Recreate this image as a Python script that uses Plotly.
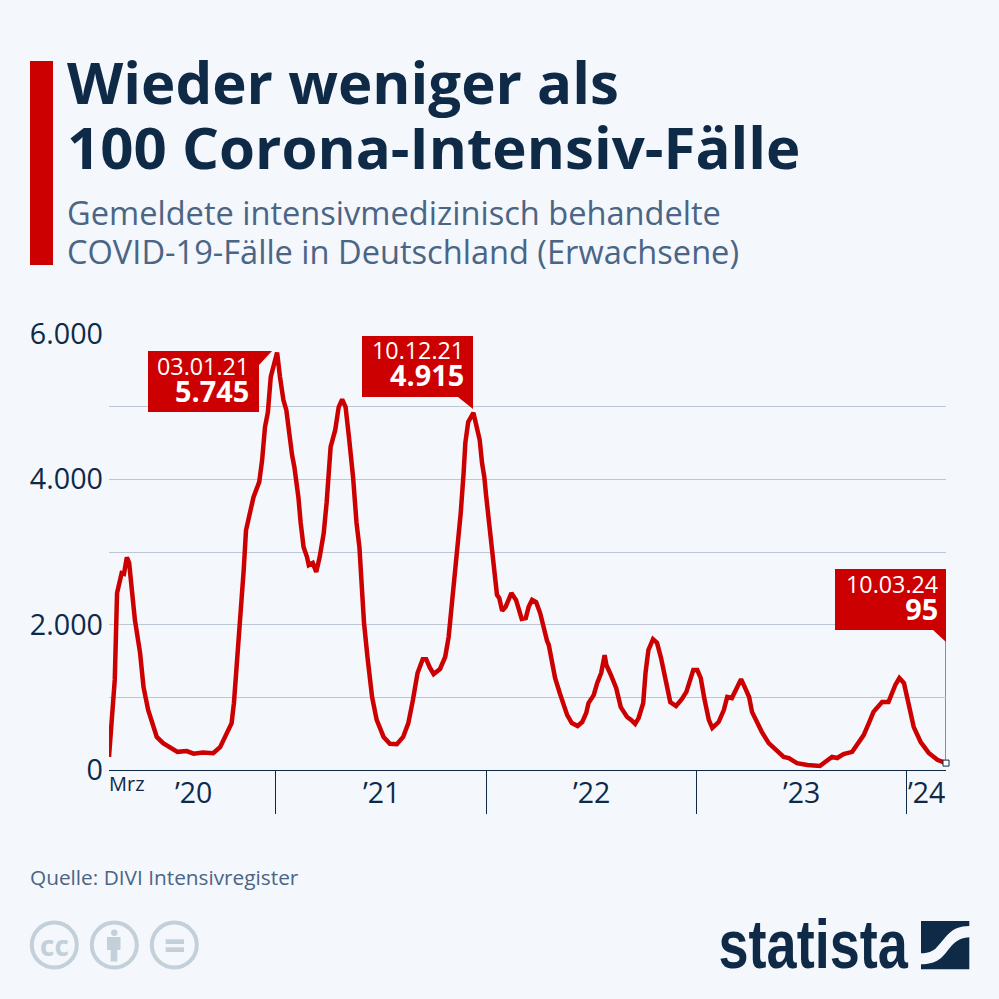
import pandas as pd
import plotly.graph_objects as go

START = "2020-03-17"
day_offsets = [0,6,10,14,18,22,26,31,35,39,45,54,60,68,74,83,94,106,119,135,147,163,181,193,205,213,217,222,228,
234,238,245,251,261,266,271,276,281,286,292,297,303,308,313,318,322,329,333,338,344,347,354,360,366,373,378,382,385,393,399,405,411,417,424,430,435,
439,443,449,457,465,477,488,500,511,520,528,536,545,551,557,564,575,584,590,596,598,605,611,616,619,624,633,636,644,648,652,655,662,668,674,678,683,689,699,707,711,717,724,729,735,742,749,755,761,764,770,775,783,790,796,804,814,822,829,833,842,848,855,861,864,872,881,889,900,907,914,920,928,932,937,945,952,959,966,975,985,995,1003,1010,1015,1022,1028,1034,1042,1048,1059,1068,1074,1082,1091,1098,1105,1112,1117,1126,1134,1146,1160,1172,1181,1195,1213,1224,1235,1244,1256,1265,1276,1291,1300,1311,1320,1328,1343,1354,1366,1373,1381,1389,1398,1410,1424,1439,1454]
cases = [180,785,1240,2435,2575,2710,2700,2925,2850,2475,2065,1610,1140,825,690,455,370,315,250,260,225,240,230,315,510,645,920,1415,2160,
2750,3300,3575,3755,3965,4265,4720,4925,5410,5575,5745,5410,5090,4955,4580,4335,4170,3755,3400,3070,2930,2820,2850,2725,2930,3260,3675,4085,4445,4680,4995,5100,4995,4570,4030,3400,3070,
2545,2025,1555,1005,690,455,360,355,455,645,965,1335,1525,1525,1415,1320,1390,1555,1830,2300,2380,2930,3535,4085,4500,4790,4915,4815,4540,4225,4030,3785,3260,2750,2410,2365,2190,2245,2435,2340,2230,2080,2090,2245,2340,2310,2160,1955,1775,1720,1485,1265,1060,895,755,645,605,660,785,920,1030,1195,1335,1580,1445,1305,1130,865,730,690,635,715,920,1335,1650,1800,1750,1540,1240,935,880,975,1075,1240,1375,1375,1265,990,690,580,660,825,1005,990,1140,1250,1130,1005,800,645,525,370,275,180,165,95,70,70,55,110,180,165,220,250,345,480,645,800,935,935,1170,1265,1195,920,590,385,235,140,95]

y_ticks = [0,1000,2000,3000,4000,5000,6000]
y_labels = ["0","","2.000","","4.000","","6.000"]
year_ticks = ["2021-01-01","2022-01-01","2023-01-01","2024-01-01"]
year_labels = ["’20","’21","’22","’23","’24"]
year_label_dates = ["2020-08-11","2021-07-03","2022-07-03","2023-07-03","2024-02-05"]

callout_dates = ["03.01.21","10.12.21","10.03.24"]
callout_values = ["5.745","4.915","95"]

BG="#f4f7fb"; NAVY="#0f2a47"; SLATE="#4a6585"; RED="#cc0000"; GRID="#bcc7d3"; ICON="#c3d0d9"
FONT="Open Sans"

dates = pd.Timestamp(START) + pd.to_timedelta(day_offsets, unit="D")

def X(x): return x/999
def Y(y): return 1-y/999

fig = go.Figure()
fig.add_trace(go.Scatter(x=dates, y=cases, mode="lines", line=dict(color=RED,width=4.5,shape="linear"),
                         hoverinfo="skip", showlegend=False, cliponaxis=False))
fig.add_trace(go.Scatter(x=[dates[-1]], y=[cases[-1]], mode="markers",
                         marker=dict(symbol="square",size=6,color="white",line=dict(color=NAVY,width=1)),
                         hoverinfo="skip", showlegend=False, cliponaxis=False))

shapes=[]
def rect(x0,y0,x1,y1,color):
    shapes.append(dict(type="rect",xref="paper",yref="paper",x0=X(x0),x1=X(x1),y0=Y(y0),y1=Y(y1),
                       fillcolor=color,line=dict(width=0),layer="above"))
def poly(pts,color,close=True):
    d="M"+" L".join(f"{X(a):.5f},{Y(b):.5f}" for a,b in pts)+(" Z" if close else "")
    shapes.append(dict(type="path",xref="paper",yref="paper",path=d,fillcolor=color,line=dict(width=0),layer="above"))
def circle(cx,cy,r,fill,lw=0,lc=None):
    shapes.append(dict(type="circle",xref="paper",yref="paper",x0=X(cx-r),x1=X(cx+r),y0=Y(cy+r),y1=Y(cy-r),
                       fillcolor=fill,line=dict(width=lw,color=lc),layer="above"))

rect(30,61,53,265,RED)
# callouts
rect(148,351,259,412,RED); poly([(259,351),(272,351),(259,365)],RED)
rect(362,336,473,397,RED); poly([(458,397),(473,409),(473,397)],RED)
rect(835,569,946,630,RED); poly([(933,630),(946,630),(946,642)],RED)
# leader of last value
shapes.append(dict(type="line",xref="x",yref="paper",x0=dates[-1],x1=dates[-1],y0=Y(763),y1=Y(640),
                   line=dict(color=NAVY,width=1),layer="below"))
# licence icons
for cx in (54.3,114.3,174.3):
    circle(cx,945,22.5,"rgba(0,0,0,0)",4,ICON)
circle(114.3,932.7,3.2,ICON)
rect(107,937,120.5,950,ICON); rect(110.7,950,117.3,961.5,ICON)
rect(165.7,939.3,184,944,ICON); rect(165.7,947.3,184,952,ICON)
# logo mark
def logo(d):
    return dict(type="path",xref="paper",yref="paper",path=d,fillcolor=NAVY,line=dict(width=0),layer="above")
def P(x,y): return f"{X(x):.5f},{Y(y):.5f}"
shapes.append(logo(f"M{P(921,921)} L{P(969.3,921)} L{P(969.3,926)} C{P(950,926)} {P(946,938)} {P(937,947)} C{P(933,952)} {P(927,953)} {P(921,953.3)} Z"))
shapes.append(logo(f"M{P(969.3,937.3)} L{P(969.3,969.3)} L{P(921,969.3)} L{P(921,964.3)} C{P(937,964)} {P(942,958)} {P(948,950)} C{P(954,943)} {P(958,938)} {P(969.3,937.3)} Z"))

anns=[]
def text(x,y,s,size,color,bold=False,anchor="left",family=FONT,xref="paper",align=None):
    anns.append(dict(xref=xref,yref="paper",x=x if xref!="paper" else X(x),y=Y(y),text=f"<b>{s}</b>" if bold else s,showarrow=False,
                     xanchor=anchor,yanchor="middle",font=dict(family=family,size=size,color=color),borderpad=0,borderwidth=0,
                     align=align or anchor))

text(67,81,"Wieder weniger als",58.2,NAVY,True)
text(67,146,"100 Corona-Intensiv-Fälle",58.2,NAVY,True)
text(67,213,"Gemeldete intensivmedizinisch behandelte",32.6,SLATE)
text(67,252,"COVID-19-Fälle in Deutschland (Erwachsene)",32.6,SLATE)
text(30,877,"Quelle: DIVI Intensivregister",20.8,SLATE)
text(108.5,783,"Mrz",20,NAVY)
for d,l in zip(year_label_dates,year_labels):
    text(d,792,l,28.5,NAVY,anchor="center",xref="x")
for (rx,yc),d,v in zip([(249,380),(464,364),(938,598)],callout_dates,callout_values):
    text(rx,yc,f'<span style="font-size:23.3px">{d}</span><br><b style="font-size:28.8px">{v}</b>',21,"white",anchor="right")
text(54.3,945,"cc",28,ICON,True,anchor="center")
text(813.5,944,"statista",68,NAVY,True,anchor="center",family="Liberation Sans")

fig.update_layout(width=999,height=999,autosize=False,margin=dict(l=0,r=0,t=0,b=0,pad=0),
    paper_bgcolor=BG,plot_bgcolor=BG,showlegend=False,shapes=shapes,annotations=anns,
    font=dict(family=FONT,color=NAVY),
    xaxis=dict(domain=[X(109),X(946)],type="date",range=[dates[0],dates[-1]],automargin=False,
               tickvals=year_ticks,ticktext=[""]*len(year_ticks),ticks="outside",ticklen=43,tickwidth=1,tickcolor=NAVY,
               showgrid=False,zeroline=False,showline=True,linecolor=NAVY,linewidth=1,anchor="y"),
    yaxis=dict(domain=[Y(770),Y(334)],range=[0,6000],automargin=False,tickvals=y_ticks,ticktext=y_labels,ticks="",
               ticklabelstandoff=5,tickfont=dict(family=FONT,size=28.7,color=NAVY),
               showgrid=True,gridcolor=GRID,gridwidth=1.2,zeroline=False,showline=False,anchor="x"))
post = """document.body.style.margin='0';document.body.style.overflow='hidden';
document.querySelectorAll('.annotation-text').forEach(function(t){
  if(t.textContent==='statista'){t.style.transformBox='fill-box';t.style.transformOrigin='center';t.style.transform='scaleX(0.795)';}
});"""
fig.write_html("out.html",config={"displayModeBar":False},post_script=post)
